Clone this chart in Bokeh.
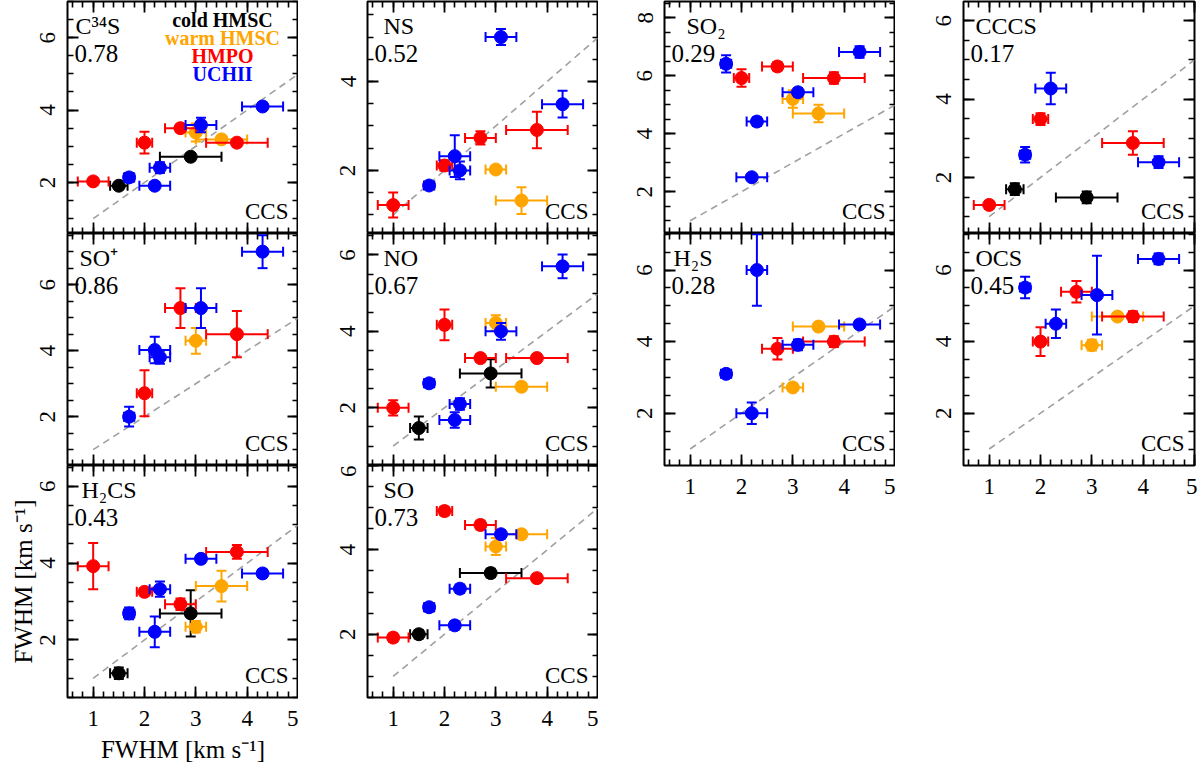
import math
from bokeh.plotting import figure
from bokeh.layouts import row, column
from bokeh.models import (ColumnDataSource, Label, LinearAxis, SingleIntervalTicker,
                          Range1d, CustomJSTickFormatter)
from bokeh.embed import file_html
from bokeh.resources import INLINE

# the 13 sources: class of each one and its CCS line width (x axis of every panel)
kind = ["cold", "cold", "warm", "warm", "hmpo", "hmpo", "hmpo", "hmpo",
        "uchii", "uchii", "uchii", "uchii", "uchii"]
ccs = [1.5, 2.9, 3.0, 3.5, 1.0, 2.0, 2.7, 3.8, 1.7, 2.2, 2.3, 3.1, 4.3]
ccs_err = [0.17, 0.6, 0.2, 0.5, 0.3, 0.15, 0.3, 0.6, 0.1, 0.3, 0.2, 0.3, 0.4]

# line widths of the other molecules (None = not detected)
c34s = [1.91, 2.71, 3.38, 3.19, 2.03, 3.10, 3.50, 3.10, 2.14, 1.91, 2.41, 3.59, 4.10]
c34s_err = [0.1, 0.1, 0.25, 0.1, 0.1, 0.3, 0.1, 0.1, 0.12, 0.1, 0.15, 0.2, 0.1]
ns = [None, None, 2.02, 1.32, 1.22, 2.11, 2.73, 2.91, 1.66, 2.32, 2.0, 5.0, 3.49]
ns_err = [None, None, 0.08, 0.3, 0.28, 0.12, 0.15, 0.41, 0.07, 0.47, 0.2, 0.18, 0.3]
so2 = [None, None, 5.2, 4.7, None, 5.92, 6.32, 5.92, 6.41, 2.50, 4.42, 5.43, 6.82]
so2_err = [None, None, 0.3, 0.3, None, 0.3, 0.15, 0.2, 0.3, 0.1, 0.15, 0.15, 0.2]
cccs = [1.70, 1.49, None, None, 1.30, 3.49, None, 2.88, 2.58, 4.27, None, None, 2.39]
cccs_err = [0.15, 0.15, None, None, 0.1, 0.15, None, 0.3, 0.2, 0.4, None, None, 0.15]
sop = [None, None, 4.30, None, None, 2.71, 5.29, 4.50, 2.0, 4.02, 3.80, 5.29, 7.0]
sop_err = [None, None, 0.39, None, None, 0.7, 0.6, 0.7, 0.3, 0.4, 0.2, 0.6, 0.5]
no = [1.47, 2.90, 4.22, 2.55, 2.0, 4.17, 3.30, 3.30, 2.64, 1.68, 2.10, 4.0, 5.70]
no_err = [0.3, 0.37, 0.2, 0.1, 0.2, 0.4, 0.1, 0.1, 0.1, 0.2, 0.15, 0.22, 0.31]
h2s = [None, None, 2.72, 4.42, None, None, 3.80, 4.0, 3.10, 2.0, 6.0, 3.91, 4.48]
h2s_err = [None, None, 0.1, 0.1, None, None, 0.3, 0.15, 0.1, 0.3, 1.0, 0.15, 0.1]
ocs = [None, None, 3.9, 4.7, None, 4.0, 5.39, 4.7, 5.51, None, 4.5, 5.3, 6.31]
ocs_err = [None, None, 0.15, 0.08, None, 0.4, 0.3, 0.15, 0.3, None, 0.4, 1.1, 0.15]
h2cs = [1.13, 2.69, 2.34, 3.40, 3.92, 3.25, 2.93, 4.29, 2.69, 2.21, 3.32, 4.11, 3.73]
h2cs_err = [0.15, 0.6, 0.15, 0.4, 0.6, 0.1, 0.15, 0.18, 0.15, 0.4, 0.2, 0.1, 0.1]
so = [2.0, 3.45, 4.08, 4.37, 1.92, 4.92, 4.59, 3.33, 2.64, 2.21, 3.08, 4.37, None]
so_err = [0.1, 0.1, 0.2, 0.1, 0.1, 0.1, 0.1, 0.1, 0.1, 0.1, 0.1, 0.1, None]

# correlation coefficient written in each panel
corr_c34s, corr_ns, corr_so2, corr_cccs = "0.78", "0.52", "0.29", "0.17"
corr_sop, corr_no, corr_h2s, corr_ocs = "0.86", "0.67", "0.28", "0.45"
corr_h2cs, corr_so = "0.43", "0.73"

one_to_one = [1, 5]

classes = ["cold", "warm", "hmpo", "uchii"]
class_names = ["cold HMSC", "warm HMSC", "HMPO", "UCHII"]
colors = {"cold": "#000000", "warm": "#ffa500", "hmpo": "#ff0000", "uchii": "#0000ff"}

FONT = "Liberation Serif"
FW, FH = 231, 232
X0, X1 = 0.5, 5.0
xtitle = "FWHM [km s\u207b\u00b9]"


def make_axes(p, xlabels, ytitle=False, xt=False):
    for place in ("left", "right", "above", "below"):
        if place in ("above", "below"):
            tk = SingleIntervalTicker(interval=1, num_minor_ticks=5)
        else:
            tk = SingleIntervalTicker(interval=2, num_minor_ticks=4)
        ax = LinearAxis(ticker=tk)
        ax.axis_line_color = None
        ax.major_tick_in = 11
        ax.major_tick_out = 0
        ax.minor_tick_in = 6
        ax.minor_tick_out = 0
        ax.major_tick_line_width = 1.8
        ax.minor_tick_line_width = 1.6
        ax.major_tick_line_color = "black"
        ax.minor_tick_line_color = "black"
        show = place == "left" or (place == "below" and xlabels)
        if show:
            ax.major_label_text_font = FONT
            ax.major_label_text_font_size = "23px"
            ax.major_label_text_color = "black"
            if place == "left":
                ax.major_label_orientation = "vertical"
                ax.major_label_standoff = 12
            else:
                ax.major_label_standoff = 13
        else:
            ax.formatter = CustomJSTickFormatter(code="return ''")
            ax.major_label_text_font_size = "0px"
            ax.major_label_standoff = 0
        if (place == "left" and ytitle) or (place == "below" and xt):
            ax.axis_label = xtitle
            ax.axis_label_text_font = FONT
            ax.axis_label_text_font_size = "25px"
            ax.axis_label_text_font_style = "normal"
            ax.axis_label_text_color = "black"
            ax.axis_label_standoff = 1 if place == "left" else 7
        p.add_layout(ax, place)


def panel(name, corr, yv, ye, ylo, yhi, name_dx, left, top=0, bottom=0, right=0,
          xlabels=False, ytitle=False, xt=False, legend=False):
    p = figure(frame_width=FW, frame_height=FH, x_range=Range1d(X0, X1),
               y_range=Range1d(ylo, yhi), x_axis_location=None, y_axis_location=None,
               toolbar_location=None, output_backend="svg",
               min_border_left=left, min_border_right=right,
               min_border_top=top, min_border_bottom=bottom)
    p.outline_line_color = "black"
    p.outline_line_width = 2
    p.background_fill_color = "white"
    p.border_fill_color = "white"
    p.grid.visible = False
    make_axes(p, xlabels, ytitle, xt)

    def dx(px):
        return X0 + px / FW * (X1 - X0)

    def dy(px):
        return yhi - px / FH * (yhi - ylo)

    p.line(one_to_one, one_to_one, line_dash="7 5", line_color="#a0a0a0", line_width=1.6)

    for k in classes:
        idx = [i for i in range(len(kind)) if kind[i] == k and yv[i] is not None]
        if not idx:
            continue
        xs = [ccs[i] for i in idx]
        xe = [ccs_err[i] for i in idx]
        ys = [yv[i] for i in idx]
        yerr = [ye[i] for i in idx]
        src = ColumnDataSource(dict(
            x=xs, y=ys,
            xl=[a - b for a, b in zip(xs, xe)], xh=[a + b for a, b in zip(xs, xe)],
            yl=[a - b for a, b in zip(ys, yerr)], yh=[a + b for a, b in zip(ys, yerr)]))
        c = colors[k]
        p.segment("xl", "y", "xh", "y", source=src, line_color=c, line_width=2)
        p.segment("x", "yl", "x", "yh", source=src, line_color=c, line_width=2)
        for xc, yc, ang in (("xl", "y", math.pi / 2), ("xh", "y", math.pi / 2),
                            ("x", "yl", 0), ("x", "yh", 0)):
            p.scatter(xc, yc, source=src, marker="dash", angle=ang, size=10,
                      line_color=c, line_width=2)
        p.scatter("x", "y", source=src, size=13, fill_color=c, line_color=c)

    p.add_layout(Label(x=dx(name_dx), y=dy(24), text=name, text_font=FONT,
                       text_font_size="24px", text_color="black",
                       text_baseline="alphabetic"))
    p.add_layout(Label(x=dx(7), y=dy(52), text=corr, text_font=FONT,
                       text_font_size="25px", text_color="black",
                       text_baseline="alphabetic"))
    p.add_layout(Label(x=dx(FW - 10), y=dy(FH - 22), text="CCS", text_font=FONT,
                       text_font_size="23px", text_color="black", text_align="right",
                       text_baseline="alphabetic"))
    if legend:
        for j, k in enumerate(classes):
            p.add_layout(Label(x=dx(155), y=dy(18 + 18 * j), text=class_names[j],
                               text_font=FONT, text_font_size="20px",
                               text_font_style="bold", text_color=colors[k],
                               text_align="center", text_baseline="alphabetic"))
    return p


p1 = panel("C\u00b3\u2074S", corr_c34s, c34s, c34s_err, 0.59, 7.0, 8, 67, top=1, legend=True)
p2 = panel("SO\u207a", corr_sop, sop, sop_err, 0.52, 7.55, 12, 67)
p3 = panel("H\u2082CS", corr_h2cs, h2cs, h2cs_err, 0.5, 6.54, 14, 67, bottom=74,
           xlabels=True, ytitle=True, xt=True)
p4 = panel("NS", corr_ns, ns, ns_err, 0.58, 5.8, 16, 69, top=1)
p5 = panel("NO", corr_no, no, no_err, 0.49, 6.56, 16, 69)
p6 = panel("SO", corr_so, so, so_err, 0.5, 6.0, 16, 69, bottom=74, xlabels=True)
p7 = panel("SO\u2082", corr_so2, so2, so2_err, 0.56, 8.56, 22, 66, top=1)
p8 = panel("H\u2082S", corr_h2s, h2s, h2s_err, 0.54, 7.02, 9, 66, bottom=44, xlabels=True)
p9 = panel("CCCS", corr_cccs, cccs, cccs_err, 0.57, 6.49, 12, 68, top=1, right=3)
p10 = panel("OCS", corr_ocs, ocs, ocs_err, 0.54, 7.02, 12, 68, bottom=44, right=3,
            xlabels=True)

layout = row(column(p1, p2, p3), column(p4, p5, p6), column(p7, p8), column(p9, p10))

open("out.html", "w").write(file_html(layout, INLINE))
